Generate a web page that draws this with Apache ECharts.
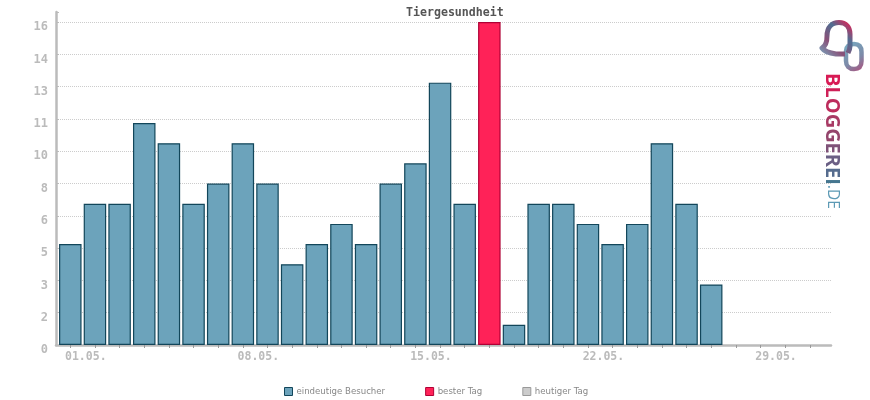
<!DOCTYPE html>
<html>
<head>
<meta charset="utf-8">
<title>Tiergesundheit</title>
<script src="https://cdn.jsdelivr.net/npm/echarts@6/dist/echarts.min.js"></script>
<style>
  html, body { margin: 0; padding: 0; background: #fff; }
  #chart { width: 870px; height: 400px; }
</style>
</head>
<body>
<div id="chart"></div>
<script>
// Tage im Monat und Besucher pro Tag
const days = [1, 2, 3, 4, 5, 6, 7, 8, 9, 10, 11, 12, 13, 14, 15, 16, 17, 18, 19, 20, 21, 22, 23, 24, 25, 26, 27]
const visitors = [5, 7, 7, 11, 10, 7, 8, 10, 8, 4, 5, 6, 5, 8, 9, 13, 7, 16, 1, 7, 7, 6, 5, 6, 10, 7, 3]
const bestDay = 18
const allTickDays = [1, 2, 3, 4, 5, 6, 7, 8, 9, 10, 11, 12, 13, 14, 15, 16, 17, 18, 19, 20, 21, 22, 23, 24, 25, 26, 27, 28, 29, 30, 31]
const labelDays = [1, 8, 15, 22, 29]
const labelTexts = ['01.05.', '08.05.', '15.05.', '22.05.', '29.05.']
const yTickLabels = ['0', '2', '3', '5', '6', '8', '10', '11', '13', '14', '16']

const chart = echarts.init(document.getElementById('chart'))

const mono = '"DejaVu Sans Mono", monospace'
const barBorder = { borderColor: '#12465a', borderWidth: 1.2 }

// Logo als eigene Formen registrieren
echarts.graphic.registerShape('logoBigRing', echarts.graphic.extendPath(
  'M 845 54 L 836 54 C 829 53 824 51 822 48 C 826 46 827 42 827 36 C 827 27 832 22.5 839 22.5 C 846 22.5 850 27 850 34 L 850 46 C 850 49 849 51 848 53'
))
echarts.graphic.registerShape('logoSmallRing', echarts.graphic.extendPath(
  'M 846 51 L 846 61 C 846 66 849 69 854 69 C 859 69 861.5 66 861.5 61 L 861.5 52 C 861.5 47 859 44 854 44 C 849 44 846 47 846 51 Z'
))

// Logo-Schriftzug, Buchstabe fuer Buchstabe eingefaerbt
const logoLetters = ['B', 'L', 'O', 'G', 'G', 'E', 'R', 'E', 'I']
const logoColors = ['#d81b55', '#cf2058', '#bd2c5c', '#a83a64', '#94456c', '#7f5278', '#6a5f84', '#566c8e', '#45768f']
const logoRich = {}
logoColors.forEach((c, i) => { logoRich['l' + i] = { fill: c, font: '700 20px "Open Sans"' } })
logoRich.de = { fill: '#5d9ab5', font: '400 15.5px "Open Sans"' }
const logoText = logoLetters.map((l, i) => `{l${i}|${l}}`).join('') + '{de|.DE}'

const option = {
  animation: false,
  title: {
    text: 'Tiergesundheit',
    left: 406,
    top: 7,
    padding: 0,
    textStyle: { fontFamily: mono, fontSize: 11.6, fontWeight: 'bold', color: '#555' }
  },
  legend: {
    left: 284,
    top: 387,
    padding: 0,
    itemWidth: 8,
    itemHeight: 8,
    itemGap: 40,
    icon: 'rect',
    itemStyle: { borderWidth: 1 },
    textStyle: { fontFamily: '"DejaVu Sans", sans-serif', fontSize: 8.6, color: '#888', padding: [0, 0, 0, -1] },
    data: ['eindeutige Besucher', 'bester Tag', 'heutiger Tag']
  },
  grid: { left: 56, right: 39, top: 12, bottom: 55 },
  xAxis: {
    type: 'value',
    min: 0.42,
    max: 31.86,
    splitLine: { show: false },
    axisLine: { show: true, lineStyle: { color: '#bbb', width: 2.5 } },
    axisTick: { show: true, customValues: allTickDays, length: 3, lineStyle: { color: '#999', width: 1 } },
    axisLabel: {
      customValues: labelDays,
      showMinLabel: true,
      showMaxLabel: true,
      margin: 6,
      padding: [0, 0, 0, 31],
      fontFamily: mono,
      fontSize: 11.5,
      fontWeight: 'bold',
      color: '#bbb',
      formatter: v => labelTexts[labelDays.indexOf(v)]
    }
  },
  yAxis: {
    type: 'value',
    min: 0,
    max: 16.5,
    interval: 1.6,
    axisLine: { show: true, lineStyle: { color: '#bbb', width: 2.5 } },
    axisTick: { show: true, inside: true, length: 3, lineStyle: { color: '#bbb', width: 1 } },
    splitLine: { show: true, showMinLine: false, showMaxLine: false, lineStyle: { color: '#ccc', type: 'dotted', width: 1 } },
    axisLabel: {
      margin: 8,
      verticalAlign: 'top',
      lineHeight: 10,
      fontFamily: mono,
      fontSize: 12,
      fontWeight: 'bold',
      color: '#bbb',
      formatter: v => (v > 16.1 ? '' : yTickLabels[Math.round(v / 1.6)])
    }
  },
  series: [
    {
      name: 'eindeutige Besucher',
      type: 'bar',
      barWidth: 22.5,
      barGap: '-100%',
      itemStyle: { color: '#6ca3bb', ...barBorder },
      data: days.filter(d => d !== bestDay).map(d => [d, visitors[d - 1]])
    },
    {
      name: 'bester Tag',
      type: 'bar',
      barWidth: 22.5,
      barGap: '-100%',
      itemStyle: { color: '#ff2258', borderColor: '#b00035', borderWidth: 1.2 },
      data: [[bestDay, visitors[bestDay - 1]]]
    },
    {
      name: 'heutiger Tag',
      type: 'bar',
      barWidth: 22.5,
      barGap: '-100%',
      itemStyle: { color: '#ccc', borderColor: '#999', borderWidth: 1.2 },
      data: []
    }
  ],
  graphic: [
    {
      type: 'text',
      x: 822,
      y: 73,
      rotation: -Math.PI / 2,
      z: 10,
      style: { text: logoText, rich: logoRich, align: 'left', verticalAlign: 'bottom' }
    },
    {
      // kleiner Ring
      type: 'logoSmallRing',
      z: 10,
      style: {
        fill: 'none',
        lineWidth: 4.5,
        stroke: new echarts.graphic.LinearGradient(0, 0, 1, 1, [
          { offset: 0, color: '#76aec4' },
          { offset: 0.6, color: '#7d8aa8' },
          { offset: 1, color: '#b04a78' }
        ])
      }
    },
    {
      // grosser Ring
      type: 'logoBigRing',
      z: 11,
      style: {
        fill: 'none',
        lineWidth: 5,
        lineJoin: 'round',
        stroke: new echarts.graphic.LinearGradient(0, 1, 1, 0, [
          { offset: 0, color: '#76aec4' },
          { offset: 0.35, color: '#8a5078' },
          { offset: 0.65, color: '#4f6e92' },
          { offset: 1, color: '#ff0f47' }
        ])
      }
    }
  ]
}

chart.setOption(option)
</script>
</body>
</html>
